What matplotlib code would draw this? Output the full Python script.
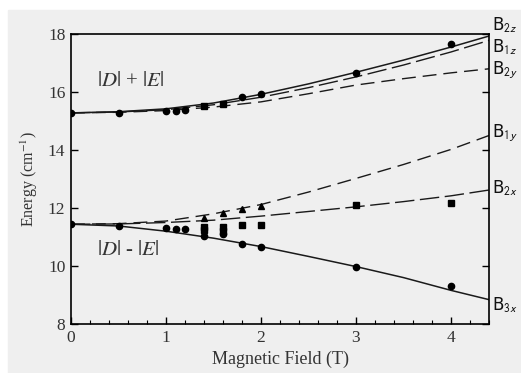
import numpy as np
import matplotlib
matplotlib.use("Agg")
import matplotlib.pyplot as plt
from matplotlib.patches import Rectangle
from matplotlib.ticker import MultipleLocator

# field grid used for the calculated curves
field = [0, 0.5, 1.0, 1.5, 2.0, 2.5, 3.0, 3.5, 4.0, 4.4]

# upper triplet group, |D| + |E|
b2z = [15.28, 15.32, 15.42, 15.62, 15.92, 16.28, 16.68, 17.10, 17.55, 17.93]
b1z = [15.28, 15.31, 15.39, 15.56, 15.82, 16.15, 16.52, 16.93, 17.38, 17.78]
b2y = [15.28, 15.30, 15.36, 15.48, 15.66, 15.94, 16.24, 16.46, 16.66, 16.80]

# lower triplet group, |D| - |E|
b1y = [11.44, 11.46, 11.55, 11.80, 12.12, 12.55, 13.02, 13.50, 14.02, 14.50]
b2x = [11.44, 11.45, 11.50, 11.58, 11.72, 11.88, 12.04, 12.22, 12.42, 12.62]
b3x = [11.44, 11.38, 11.20, 10.96, 10.67, 10.33, 9.98, 9.60, 9.16, 8.84]

# measured points
up_circ_b = [0, 0.5, 1.0, 1.1, 1.2, 1.8, 2.0, 3.0, 4.0]
up_circ_e = [15.28, 15.29, 15.35, 15.36, 15.38, 15.82, 15.93, 16.67, 17.66]
up_sq_b = [1.4, 1.6]
up_sq_e = [15.52, 15.60]

lo_circ_b = [0, 0.5, 1.0, 1.1, 1.2, 1.4, 1.6, 1.8, 2.0, 3.0, 4.0]
lo_circ_e = [11.44, 11.39, 11.30, 11.28, 11.26, 11.04, 11.10, 10.75, 10.67, 9.97, 9.32]
lo_sq_b = [1.4, 1.4, 1.6, 1.6, 1.8, 2.0, 3.0, 4.0]
lo_sq_e = [11.33, 11.24, 11.36, 11.22, 11.40, 11.43, 12.09, 12.16]
lo_tri_b = [1.4, 1.6, 1.8, 2.0]
lo_tri_e = [11.67, 11.84, 11.95, 12.08]

labels = [r"B$_{\mathsf{2z}}$", r"B$_{\mathsf{1z}}$", r"B$_{\mathsf{2y}}$",
          r"B$_{\mathsf{1y}}$", r"B$_{\mathsf{2x}}$", r"B$_{\mathsf{3x}}$"]
label_e = [18.30, 17.55, 16.76, 14.60, 12.69, 8.66]

plt.rcParams['font.family'] = ['Liberation Serif', 'DejaVu Serif']
plt.rcParams['mathtext.fontset'] = 'stix'

fig = plt.figure(figsize=(5.21, 3.73), dpi=100, facecolor='white')
bg = Rectangle((8 / 521, 0), 1, 1 - 10 / 373, transform=fig.transFigure,
               color='#efefef', zorder=-10)
fig.add_artist(bg)
ax = fig.add_axes([71 / 521, 49 / 373, 418 / 521, 290 / 373])
ax.set_facecolor('none')

lc = '#1a1a1a'
ax.plot(field, b2z, '-', color=lc, lw=1.1)
ax.plot(field, b1z, color=lc, lw=1.0, dashes=(14, 4))
ax.plot(field, b2y, color=lc, lw=1.0, dashes=(10, 5))
ax.plot(field, b1y, color=lc, lw=1.0, dashes=(10, 5))
ax.plot(field, b2x, color=lc, lw=1.0, dashes=(14, 4))
ax.plot(field, b3x, '-', color=lc, lw=1.1)

ax.plot(up_circ_b, up_circ_e, 'o', color='black', ms=4.5)
ax.plot(up_sq_b, up_sq_e, 's', color='black', ms=4)
ax.plot(lo_circ_b, lo_circ_e, 'o', color='black', ms=4.5)
ax.plot(lo_sq_b, lo_sq_e, 's', color='black', ms=4)
ax.plot(lo_tri_b, lo_tri_e, '^', color='black', ms=4)

ax.set_xlim(0, 4.4)
ax.set_ylim(8, 18)
ax.xaxis.set_major_locator(MultipleLocator(1))
ax.xaxis.set_minor_locator(MultipleLocator(0.2))
ax.yaxis.set_major_locator(MultipleLocator(2))
ax.tick_params(direction='in', right=True, length=5, width=1, labelsize=12.5,
               labelcolor='#333333', pad=4)
ax.tick_params(which='minor', direction='in', length=3, width=0.8)
for s in ax.spines.values():
    s.set_linewidth(1.2)

ax.set_xlabel('Magnetic Field (T)', fontsize=13, color='#333333', labelpad=4)
ax.set_ylabel('Energy (cm$^{-1}$)', fontsize=11.5, color='#333333', labelpad=6)

ax.text(0.27, 16.35, '$|D|$ + $|E|$', fontsize=15, color='#333333', va='center')
ax.text(0.27, 10.55, '$|D|$ - $|E|$', fontsize=15, color='#333333', va='center')

for lab, e in zip(labels, label_e):
    ax.text(4.43, e, lab, fontsize=12, family='DejaVu Sans', color='#111111',
            va='center', ha='left', clip_on=False)

fig.savefig('out.png', dpi=100, facecolor=fig.get_facecolor())
